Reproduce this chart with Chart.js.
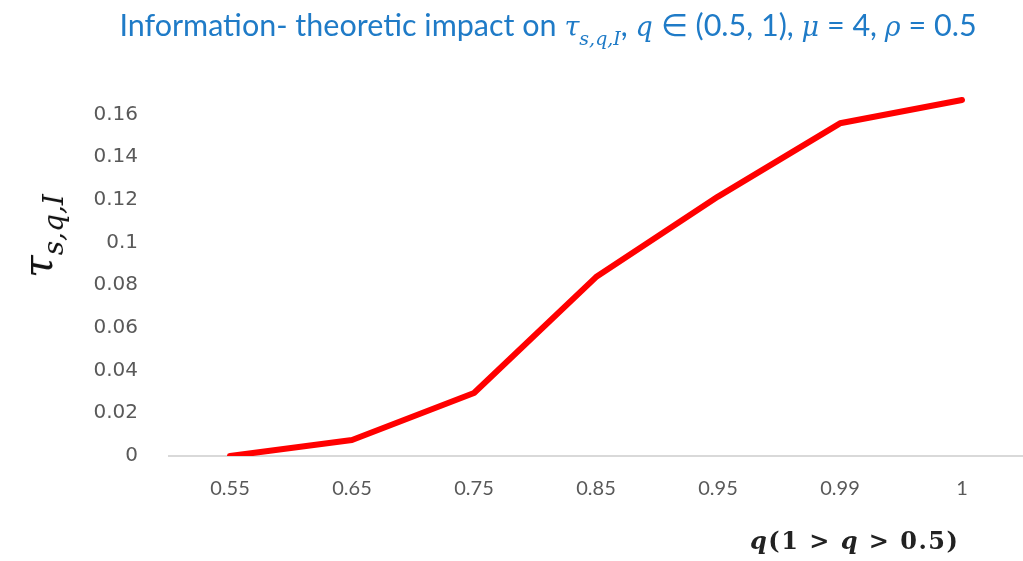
<!DOCTYPE html>
<html>
<head>
<meta charset="utf-8">
<script src="https://cdn.jsdelivr.net/npm/chart.js"></script>
<style>
  html, body { margin: 0; padding: 0; background: #fff; }
  #wrap { position: relative; width: 1023px; height: 561px; overflow: hidden; }
  #c { position: absolute; left: 0; top: 0; }
  #title { position: absolute; left: 0; width: 1096px; top: 6px; text-align: center;
           font-family: Lato, "Open Sans", sans-serif; font-size: 30.5px; color: #1F7BC7; white-space: nowrap; }
  #title i { font-family: "DejaVu Serif", serif; font-style: italic; font-size: 27px; }
  #title sub { font-size: 19px; vertical-align: -9px; line-height: 0; }
  #ylab { position: absolute; left: 38px; top: 236px; transform: translate(-50%, -50%) rotate(-90deg);
          font-family: "DejaVu Serif", serif; font-style: italic; font-size: 41px; color: #111; white-space: nowrap; }
  #ylab sub { font-size: 28px; vertical-align: -11px; line-height: 0; }
  #xlab { position: absolute; left: 750px; top: 526px; font-family: "DejaVu Serif", serif; font-size: 24px;
          color: #222; white-space: nowrap; letter-spacing: 1.5px; font-weight: 600; }
  #xlab i { font-style: italic; }
</style>
</head>
<body>
<div id="wrap">
  <canvas id="c" width="1023" height="561"></canvas>
  <div id="title">Information- theoretic impact on <i>τ<sub>s,q,I</sub></i>, <i>q</i> ∈ (0.5, 1), <i>μ</i> = 4, <i>ρ</i> = 0.5</div>
  <div id="ylab">τ<sub>s,q,I</sub></div>
  <div id="xlab"><i>q</i>(1 &gt; <i>q</i> &gt; 0.5)</div>
</div>
<script>
const categories = ["0.55", "0.65", "0.75", "0.85", "0.95", "0.99", "1"];
const tauValues = [0.0, 0.0075, 0.0295, 0.0838, 0.1215, 0.1558, 0.1667];
const yTickStep = 0.02;
const yMin = 0;
const yMax = 0.17;

new Chart(document.getElementById('c'), {
  type: 'line',
  data: {
    labels: categories,
    datasets: [{
      data: tauValues,
      borderColor: '#FF0000',
      borderWidth: 6,
      pointRadius: 0,
      tension: 0,
      borderCapStyle: 'round',
      borderJoinStyle: 'round',
      fill: false
    }]
  },
  options: {
    responsive: false,
    animation: false,
    devicePixelRatio: 1,
    layout: { padding: { top: 93, right: 0, left: 0, bottom: 0 } },
    plugins: { legend: { display: false }, tooltip: { enabled: false }, title: { display: false } },
    scales: {
      x: {
        type: 'category',
        offset: true,
        grid: { display: false },
        border: { display: true, color: '#D9D9D9', width: 2 },
        ticks: { color: '#595959', font: { family: 'Lato, "Open Sans", sans-serif', size: 20 }, padding: 13, maxRotation: 0 },
        afterFit: s => { s.height = 105; }
      },
      y: {
        min: yMin,
        max: yMax,
        grid: { display: false },
        border: { display: false },
        ticks: {
          stepSize: yTickStep,
          includeBounds: false,
          color: '#595959',
          font: { family: '"DejaVu Sans", sans-serif', size: 20 },
          padding: 23,
          callback: v => String(+v.toFixed(2))
        },
        afterFit: s => { s.width = 169; }
      }
    }
  }
});
</script>
</body>
</html>
